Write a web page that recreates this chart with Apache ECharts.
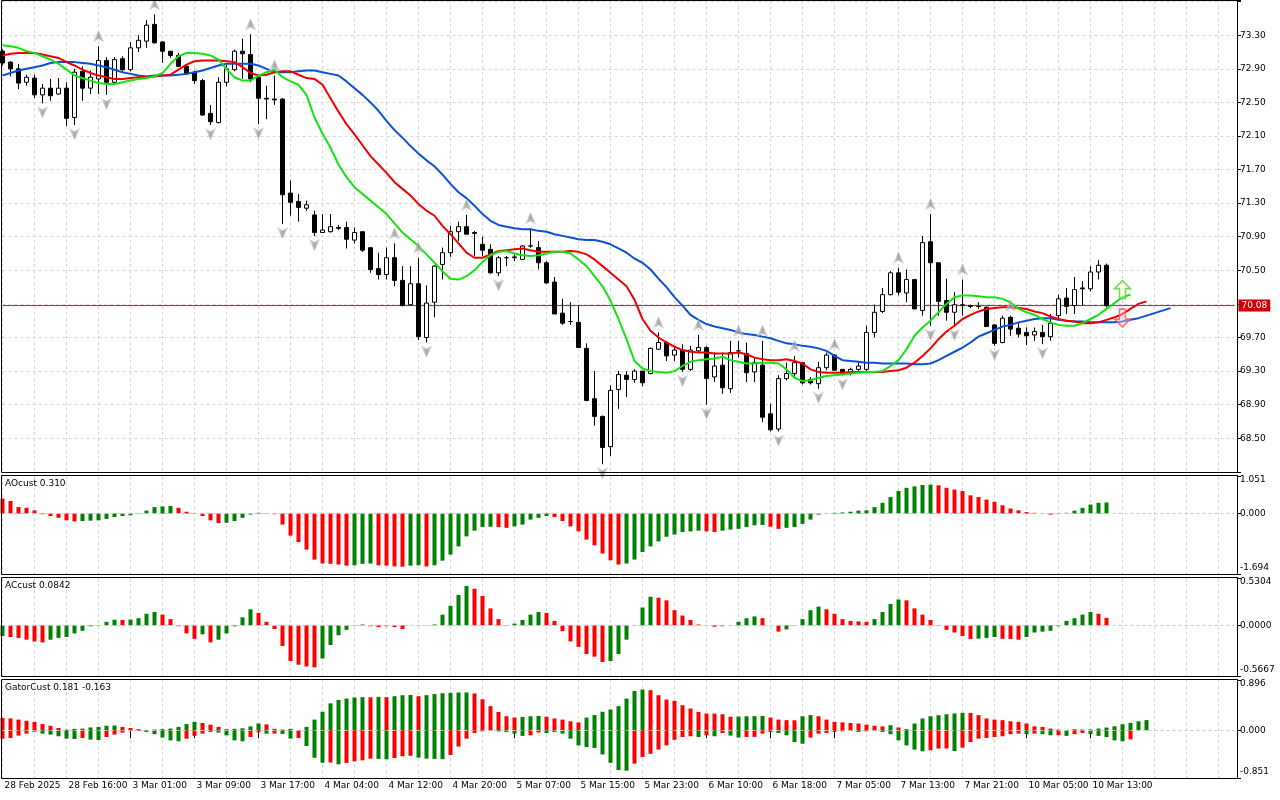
<!DOCTYPE html>
<html>
<head>
<meta charset="utf-8">
<title>Alligator / AO / AC / Gator</title>
<script src="https://cdn.jsdelivr.net/npm/echarts@6.0.0/dist/echarts.min.js"></script>
<style>
    html, body {margin: 0; padding: 0; background: #fff;}
    #main {width: 1280px; height: 800px;}
</style>
</head>
<body>
<div id="main"></div>
<script>
var FONT = 'DejaVu Sans';

// time labels, one every 8 bars
var timeLabels = ['28 Feb 2025', '28 Feb 16:00', '3 Mar 01:00', '3 Mar 09:00', '3 Mar 17:00', '4 Mar 04:00',
    '4 Mar 12:00', '4 Mar 20:00', '5 Mar 07:00', '5 Mar 15:00', '5 Mar 23:00', '6 Mar 10:00', '6 Mar 18:00',
    '7 Mar 05:00', '7 Mar 13:00', '7 Mar 21:00', '10 Mar 05:00', '10 Mar 13:00'];
var slotCount = 155;   // bar slots across the window (chart is shifted)

// candles: [open, close, low, high]
var ohlc = [
    [73.11,72.97,72.94,73.13],[72.98,72.90,72.81,72.99],[72.90,72.73,72.66,72.96],[72.74,72.80,72.70,72.83],
    [72.79,72.59,72.55,72.83],[72.59,72.67,72.49,72.72],[72.67,72.58,72.52,72.78],[72.60,72.67,72.59,72.79],
    [72.67,72.31,72.22,72.74],[72.32,72.86,72.23,72.90],[72.87,72.67,72.52,72.93],[72.67,72.80,72.60,72.88],
    [72.78,73.00,72.60,73.17],[73.00,72.74,72.59,73.04],[72.74,73.01,72.72,73.04],[73.02,72.89,72.87,73.05],
    [72.89,73.15,72.87,73.22],[73.15,73.24,73.10,73.30],[73.23,73.42,73.15,73.48],[73.43,73.21,73.20,73.55],
    [73.22,73.11,72.97,73.23],[73.11,73.06,73.03,73.11],[73.06,72.93,72.92,73.09],[72.93,72.84,72.83,72.95],
    [72.86,72.76,72.72,72.88],[72.76,72.35,72.34,72.78],[72.37,72.27,72.23,72.47],[72.26,72.74,72.25,72.80],
    [72.74,72.90,72.69,72.95],[72.89,73.11,72.87,73.13],[73.11,73.08,72.78,73.26],[73.07,72.78,72.74,73.31],
    [72.80,72.55,72.24,72.82],[72.55,72.54,72.30,72.70],[72.54,72.53,72.47,72.82],[72.54,71.40,71.05,72.55],
    [71.42,71.31,71.15,71.57],[71.32,71.25,71.08,71.41],[71.24,71.28,71.21,71.33],[71.16,70.95,70.91,71.21],
    [70.95,70.98,70.95,71.17],[70.96,71.02,70.95,71.17],[71.01,71.00,70.98,71.04],[71.01,70.87,70.76,71.08],
    [70.86,70.95,70.82,71.01],[70.96,70.74,70.72,70.96],[70.77,70.51,70.47,70.77],[70.52,70.45,70.39,70.71],
    [70.45,70.65,70.39,70.77],[70.65,70.38,70.31,70.82],[70.38,70.08,70.07,70.55],[70.09,70.34,70.08,70.55],
    [70.34,69.71,69.67,70.65],[69.70,70.11,69.64,70.32],[70.12,70.55,69.94,70.56],[70.57,70.71,70.39,70.77],
    [70.71,70.96,70.66,71.03],[70.96,71.02,70.85,71.08],[71.02,70.93,70.93,71.16],[70.95,70.94,70.67,70.97],
    [70.81,70.74,70.67,70.90],[70.75,70.47,70.46,70.81],[70.47,70.65,70.43,70.67],[70.65,70.65,70.55,70.67],
    [70.65,70.66,70.61,70.69],[70.63,70.79,70.63,70.80],[70.79,70.79,70.77,71.00],[70.77,70.59,70.51,70.85],
    [70.59,70.35,70.34,70.61],[70.36,69.98,69.98,70.42],[69.99,69.87,69.85,70.16],[69.89,69.89,69.85,70.12],
    [69.88,69.58,69.58,70.08],[69.57,68.95,68.94,69.63],[68.97,68.76,68.65,69.30],[68.76,68.39,68.19,68.77],
    [68.40,69.07,68.29,69.13],[69.08,69.26,68.85,69.30],[69.25,69.20,68.99,69.30],[69.20,69.30,69.16,69.32],
    [69.30,69.16,69.12,69.30],[69.27,69.57,69.26,69.58],[69.56,69.64,69.55,69.76],[69.64,69.48,69.42,69.66],
    [69.49,69.55,69.42,69.60],[69.55,69.32,69.29,69.62],[69.32,69.55,69.30,69.60],[69.54,69.58,69.52,69.73],
    [69.58,69.21,68.90,69.60],[69.23,69.36,69.17,69.52],[69.37,69.10,69.03,69.52],[69.09,69.52,69.04,69.66],
    [69.54,69.54,69.46,69.66],[69.51,69.28,69.17,69.64],[69.29,69.40,69.17,69.46],[69.37,68.75,68.69,69.66],
    [68.79,68.60,68.58,68.91],[68.61,69.21,68.58,69.25],[69.21,69.27,69.19,69.40],[69.27,69.40,69.21,69.48],
    [69.40,69.16,69.14,69.40],[69.20,69.16,69.14,69.23],[69.15,69.34,69.09,69.41],[69.34,69.49,69.31,69.52],
    [69.49,69.31,69.30,69.50],[69.32,69.27,69.25,69.32],[69.28,69.32,69.25,69.34],[69.32,69.36,69.29,69.40],
    [69.32,69.76,69.30,69.84],[69.76,70.00,69.70,70.09],[70.01,70.21,69.99,70.29],[70.21,70.47,70.20,70.49],
    [70.47,70.24,70.20,70.53],[70.23,70.39,70.12,70.51],[70.39,70.04,70.04,70.39],[70.02,70.83,69.96,70.91],
    [70.84,70.59,69.84,71.17],[70.59,70.13,69.96,70.59],[70.14,70.00,69.90,70.40],[70.00,70.09,69.84,70.24],
    [70.08,70.09,69.96,70.39],[70.08,70.07,70.05,70.09],[70.07,70.07,70.04,70.12],[70.06,69.83,69.83,70.07],
    [69.85,69.63,69.60,69.86],[69.64,69.93,69.63,69.96],[69.94,69.80,69.72,69.96],[69.81,69.74,69.70,69.88],
    [69.76,69.72,69.61,69.82],[69.73,69.77,69.66,69.82],[69.76,69.71,69.62,69.85],[69.71,69.87,69.66,69.98],
    [69.96,70.16,69.90,70.21],[70.17,70.07,69.98,70.29],[70.08,70.27,69.98,70.42],[70.29,70.28,70.08,70.37],
    [70.28,70.48,70.25,70.55],[70.48,70.56,70.39,70.62],[70.56,70.08,70.06,70.58]
];

// alligator lines as drawn (already shifted forward)
var jaw = [
    72.82,72.85,72.88,72.90,72.92,72.94,72.97,72.98,72.98,72.98,
    72.97,72.96,72.94,72.92,72.89,72.86,72.84,72.82,72.81,72.82,
    72.82,72.82,72.83,72.84,72.86,72.88,72.91,72.94,72.96,72.96,
    72.96,72.96,72.94,72.90,72.86,72.86,72.86,72.87,72.88,72.88,
    72.86,72.84,72.82,72.75,72.67,72.59,72.50,72.40,72.28,72.17,
    72.08,71.98,71.89,71.81,71.74,71.64,71.53,71.43,71.36,71.27,
    71.17,71.09,71.04,71.02,71.00,70.99,70.99,70.97,70.96,70.93,
    70.91,70.89,70.87,70.86,70.86,70.84,70.81,70.76,70.71,70.64,
    70.59,70.51,70.40,70.30,70.18,70.08,69.97,69.91,69.86,69.83,
    69.81,69.79,69.76,69.74,69.73,69.71,69.69,69.66,69.63,69.62,
    69.60,69.59,69.57,69.54,69.48,69.43,69.42,69.41,69.40,69.40,
    69.39,69.39,69.39,69.39,69.38,69.38,69.39,69.43,69.48,69.53,
    69.58,69.64,69.71,69.75,69.79,69.83,69.85,69.88,69.90,69.92,
    69.93,69.93,69.91,69.90,69.89,69.89,69.88,69.88,69.88,69.88,
    69.89,69.91,69.93,69.96,69.99,70.02,70.05
];
var teeth = [
    73.06,73.08,73.09,73.09,73.09,73.07,73.05,73.03,72.98,72.94,
    72.89,72.85,72.82,72.80,72.78,72.78,72.79,72.80,72.80,72.81,
    72.82,72.83,72.89,72.95,72.99,73.00,73.00,73.00,72.99,72.98,
    72.92,72.85,72.82,72.83,72.86,72.87,72.87,72.83,72.79,72.78,
    72.71,72.55,72.39,72.24,72.12,71.99,71.86,71.76,71.66,71.55,
    71.47,71.39,71.29,71.21,71.15,71.03,70.93,70.82,70.71,70.65,
    70.65,70.69,70.73,70.74,70.75,70.76,70.74,70.72,70.72,70.72,
    70.72,70.73,70.72,70.69,70.63,70.55,70.47,70.39,70.31,70.15,
    69.92,69.78,69.70,69.64,69.59,69.55,69.53,69.52,69.52,69.51,
    69.51,69.51,69.52,69.50,69.46,69.44,69.43,69.43,69.44,69.42,
    69.39,69.32,69.29,69.28,69.28,69.28,69.29,69.29,69.29,69.29,
    69.29,69.30,69.31,69.34,69.40,69.48,69.57,69.68,69.77,69.84,
    69.92,69.97,70.01,70.04,70.05,70.06,70.06,70.05,70.04,70.01,
    69.99,69.95,69.92,69.90,69.89,69.87,69.87,69.88,69.91,69.94,
    69.98,70.04,70.10,70.13
];
var lips = [
    73.18,73.17,73.15,73.11,73.09,73.05,73.01,72.96,72.89,72.82,
    72.79,72.76,72.73,72.72,72.72,72.74,72.76,72.78,72.79,72.81,
    72.85,72.96,73.05,73.09,73.09,73.08,73.06,73.01,72.90,72.80,
    72.76,72.76,72.82,72.86,72.89,72.80,72.75,72.71,72.59,72.32,
    72.13,71.96,71.76,71.61,71.49,71.41,71.33,71.25,71.17,71.06,
    70.95,70.87,70.79,70.69,70.59,70.49,70.40,70.39,70.43,70.50,
    70.60,70.68,70.72,70.73,70.70,70.68,70.67,70.68,70.70,70.72,
    70.72,70.70,70.63,70.55,70.43,70.31,70.14,69.92,69.68,69.42,
    69.33,69.30,69.29,69.28,69.30,69.36,69.41,69.43,69.44,69.45,
    69.47,69.43,69.41,69.39,69.39,69.40,69.40,69.39,69.32,69.22,
    69.18,69.19,69.22,69.24,69.25,69.26,69.27,69.28,69.29,69.29,
    69.30,69.36,69.43,69.56,69.72,69.82,69.90,70.00,70.10,70.18,
    70.20,70.20,70.19,70.18,70.18,70.16,70.12,70.04,70.00,69.97,
    69.92,69.88,69.85,69.84,69.84,69.87,69.92,69.97,70.04,70.11,
    70.18,70.21
];

// fractal bars
var upFractals = [12, 19, 31, 34, 49, 52, 58, 66, 82, 87, 92, 95, 99, 104, 112, 116, 120, 126];
var downFractals = [5, 9, 13, 26, 32, 35, 39, 53, 62, 75, 85, 88, 97, 102, 105, 116, 119, 124, 130];

// signal arrows and bid
var signalUp = [[140, 70.27]];
var signalDown = [[140, 69.93]];
var bidPrice = 70.08;

var aoValues = [
    0.42,0.35,0.18,0.16,0.09,-0.02,-0.07,-0.12,-0.19,-0.22,
    -0.21,-0.20,-0.19,-0.15,-0.10,-0.07,-0.05,-0.01,0.08,0.18,
    0.20,0.21,0.16,0.05,-0.01,-0.07,-0.19,-0.27,-0.26,-0.21,
    -0.12,-0.03,0.02,-0.01,-0.02,-0.31,-0.62,-0.80,-1.01,-1.29,
    -1.40,-1.41,-1.43,-1.46,-1.45,-1.41,-1.40,-1.45,-1.46,-1.48,
    -1.49,-1.46,-1.45,-1.48,-1.45,-1.32,-1.15,-0.92,-0.64,-0.48,
    -0.38,-0.37,-0.38,-0.40,-0.36,-0.31,-0.17,-0.12,-0.07,-0.10,
    -0.21,-0.36,-0.50,-0.73,-0.89,-1.12,-1.31,-1.43,-1.40,-1.29,
    -1.08,-0.92,-0.78,-0.65,-0.59,-0.52,-0.50,-0.48,-0.50,-0.52,
    -0.48,-0.45,-0.43,-0.38,-0.33,-0.32,-0.37,-0.43,-0.40,-0.38,
    -0.29,-0.17,-0.03,0.01,0.02,0.03,0.05,0.08,0.09,0.18,
    0.30,0.46,0.63,0.72,0.76,0.80,0.81,0.79,0.72,0.67,
    0.63,0.51,0.46,0.39,0.33,0.23,0.14,0.09,0.04,0.02,
    0.01,-0.03,-0.01,0.02,0.08,0.16,0.25,0.30,0.31
];
var acValues = [
    -0.12,-0.13,-0.14,-0.16,-0.18,-0.19,-0.16,-0.14,-0.13,-0.09,
    -0.06,-0.01,0.004,0.04,0.063,0.060,0.065,0.08,0.13,0.15,
    0.12,0.07,-0.01,-0.09,-0.15,-0.10,-0.19,-0.16,-0.09,-0.01,
    0.09,0.18,0.14,0.04,-0.04,-0.23,-0.40,-0.44,-0.46,-0.47,
    -0.37,-0.22,-0.11,-0.05,0.004,0.01,-0.01,-0.02,-0.01,-0.02,
    -0.04,0.00,0.004,-0.002,0.01,0.12,0.22,0.34,0.44,0.41,
    0.33,0.19,0.07,0.004,0.02,0.06,0.12,0.15,0.14,0.05,
    -0.065,-0.18,-0.24,-0.32,-0.35,-0.41,-0.40,-0.32,-0.16,0.004,
    0.20,0.32,0.31,0.28,0.17,0.11,0.06,0.01,-0.002,-0.015,
    -0.01,0.004,0.04,0.08,0.10,0.08,0.00,-0.07,-0.045,0.004,
    0.07,0.17,0.21,0.18,0.13,0.07,0.05,0.045,0.04,0.07,
    0.15,0.24,0.29,0.28,0.19,0.12,0.06,0.004,-0.05,-0.08,
    -0.12,-0.152,-0.148,-0.14,-0.13,-0.15,-0.152,-0.16,-0.13,-0.08,
    -0.07,-0.06,-0.01,0.05,0.08,0.12,0.15,0.13,0.0842
];
var gatorUp = [
    0.22,0.21,0.19,0.17,0.15,0.11,0.08,0.04,0.01,0.025,
    0.03,0.05,0.06,0.08,0.085,0.06,0.04,0.02,0.006,0.012,
    0.02,0.03,0.06,0.11,0.15,0.13,0.10,0.06,0.02,0.025,
    0.035,0.07,0.12,0.105,0.025,0.012,0.024,0.006,0.06,0.19,
    0.33,0.48,0.54,0.565,0.585,0.59,0.588,0.595,0.59,0.607,
    0.625,0.628,0.607,0.625,0.645,0.66,0.668,0.672,0.675,0.655,
    0.553,0.43,0.327,0.25,0.226,0.238,0.25,0.256,0.24,0.21,
    0.19,0.16,0.14,0.226,0.27,0.33,0.37,0.43,0.565,0.70,
    0.726,0.714,0.625,0.548,0.524,0.446,0.387,0.327,0.298,0.296,
    0.286,0.24,0.245,0.25,0.252,0.255,0.226,0.19,0.18,0.178,
    0.25,0.27,0.25,0.19,0.15,0.14,0.13,0.12,0.10,0.08,
    0.07,0.09,0.05,0.02,0.12,0.21,0.25,0.268,0.285,0.30,
    0.31,0.309,0.27,0.21,0.19,0.18,0.16,0.15,0.12,0.07,
    0.06,0.03,0.012,0.004,0.018,0.012,0.014,0.03,0.048,0.071,
    0.107,0.131,0.16,0.181
];
var gatorDown = [
    -0.15,-0.14,-0.095,-0.06,-0.025,-0.06,-0.077,-0.107,-0.149,-0.155,
    -0.137,-0.167,-0.173,-0.12,-0.077,-0.042,-0.015,-0.01,-0.03,-0.07,
    -0.13,-0.18,-0.196,-0.149,-0.10,-0.06,-0.03,-0.042,-0.09,-0.18,
    -0.196,-0.12,-0.036,-0.06,-0.059,-0.065,-0.149,-0.137,-0.28,-0.49,
    -0.58,-0.575,-0.607,-0.583,-0.554,-0.536,-0.506,-0.51,-0.518,-0.494,
    -0.464,-0.455,-0.488,-0.506,-0.51,-0.515,-0.44,-0.29,-0.15,-0.05,
    -0.02,-0.01,-0.02,-0.03,-0.06,-0.10,-0.09,-0.04,-0.05,-0.03,
    -0.06,-0.15,-0.27,-0.30,-0.315,-0.43,-0.58,-0.71,-0.72,-0.595,
    -0.476,-0.42,-0.345,-0.27,-0.17,-0.12,-0.107,-0.12,-0.09,-0.107,
    -0.05,-0.095,-0.13,-0.12,-0.118,-0.06,-0.03,-0.048,-0.09,-0.21,
    -0.24,-0.13,-0.06,-0.048,-0.03,-0.02,-0.012,-0.03,-0.02,-0.012,
    -0.03,-0.07,-0.18,-0.27,-0.345,-0.375,-0.357,-0.327,-0.325,-0.37,
    -0.31,-0.21,-0.15,-0.137,-0.12,-0.107,-0.07,-0.06,-0.07,-0.06,
    -0.07,-0.09,-0.088,-0.10,-0.07,-0.048,-0.07,-0.10,-0.12,-0.18,
    -0.196,-0.163
];

var GREEN = '#008000', RED = '#ff0000';
var GRID_LINE = {color: '#d6d6d6', type: [3, 3], width: 1};

// histogram colour: up vs previous bar
function histColor(vals, first, useAbs) {
    return function (p) {
        var i = p.dataIndex;
        if (i === 0) return first;
        var a = useAbs ? Math.abs(vals[i]) : vals[i];
        var b = useAbs ? Math.abs(vals[i - 1]) : vals[i - 1];
        return a > b ? GREEN : RED;
    };
}

var categories = [];
for (var k = 0; k < slotCount; k++) categories.push(String(k));

function isTimeTick(i) {
    return i % 8 === 0 && i / 8 < timeLabels.length;
}

function xAxisFor(idx, withLabels) {
    return {
        type: 'category', gridIndex: idx, data: categories, boundaryGap: false,
        axisLine: {show: false},
        axisTick: {show: withLabels, length: 8, interval: isTimeTick, lineStyle: {color: '#000'}},
        axisLabel: {
            show: withLabels, align: 'left', margin: 3, padding: [0, 0, 0, 2],
            fontSize: 9, fontFamily: FONT, color: '#000',
            interval: isTimeTick,
            formatter: function (v, i) { return timeLabels[i / 8] || ''; }
        },
        splitLine: {show: true, interval: function (i) { return i % 4 === 0; }, lineStyle: GRID_LINE}
    };
}

function subAxis(idx, lo, hi, digits) {
    var near = function (a, b) { return Math.abs(a - b) < 1e-9; };
    return {
        type: 'value', gridIndex: idx, position: 'right', offset: 2.5, min: lo, max: hi,
        splitLine: {show: false},
        axisLine: {show: true, lineStyle: {color: '#000'}},
        axisTick: {show: true, length: 4, customValues: [lo, 0, hi], lineStyle: {color: '#000'}},
        axisLabel: {
            customValues: [lo, 0, hi], margin: 3, color: '#000', fontSize: 9, fontFamily: FONT,
            formatter: function (v) {
                var s = v.toFixed(digits);
                if (near(v, hi)) return '{t|' + s + '}';
                if (near(v, lo)) return '{b|' + s + '}';
                return s;
            },
            rich: {
                t: {padding: [8, 0, 0, 0], fontSize: 9, fontFamily: FONT, color: '#000'},
                b: {padding: [0, 0, 12, 0], fontSize: 9, fontFamily: FONT, color: '#000'}
            }
        }
    };
}

function zeroLine() {
    return {silent: true, symbol: ['none', 'none'], label: {show: false},
        lineStyle: {color: '#c8c8c8', type: [3, 3], width: 1}, data: [{yAxis: 0}]};
}

var fractalFill = {
    type: 'linear', x: 0, y: 0, x2: 1, y2: 0,
    colorStops: [{offset: 0, color: '#e4e4e4'}, {offset: 0.5, color: '#939393'}, {offset: 1, color: '#c6c6c6'}]
};

var myChart = echarts.init(document.getElementById('main'), null, {renderer: 'canvas'});

var option = {
    animation: false,
    backgroundColor: '#fff',
    textStyle: {fontFamily: FONT},
    title: [
        {text: 'AOcust ' + aoValues[aoValues.length - 1].toFixed(3), left: 5, top: 479, padding: 0,
            textStyle: {fontSize: 9, fontWeight: 'normal', fontFamily: FONT, color: '#000'}},
        {text: 'ACcust ' + acValues[acValues.length - 1].toFixed(4), left: 5, top: 581, padding: 0,
            textStyle: {fontSize: 9, fontWeight: 'normal', fontFamily: FONT, color: '#000'}},
        {text: 'GatorCust ' + gatorUp[gatorUp.length - 1].toFixed(3) + ' ' + gatorDown[gatorDown.length - 1].toFixed(3),
            left: 5, top: 683, padding: 0,
            textStyle: {fontSize: 9, fontWeight: 'normal', fontFamily: FONT, color: '#000'}}
    ],
    grid: [
        // small negative top puts the bid level on a pixel centre
        {left: 2.5, width: 1232, top: -0.21, height: 472},
        {left: 2.5, width: 1232, top: 476, height: 98},
        {left: 2.5, width: 1232, top: 578, height: 98},
        {left: 2.5, width: 1232, top: 680, height: 98}
    ],
    xAxis: [xAxisFor(0, false), xAxisFor(1, false), xAxisFor(2, false), xAxisFor(3, true)],
    yAxis: [
        {
            type: 'value', gridIndex: 0, position: 'right', offset: 2.5,
            min: 68.10, max: 73.72, interval: 0.4,
            splitLine: {show: true, lineStyle: GRID_LINE},
            axisLine: {show: true, lineStyle: {color: '#000'}},
            axisTick: {show: true, length: 4, lineStyle: {color: '#000'}},
            axisLabel: {
                margin: 3, color: '#000', fontSize: 9, fontFamily: FONT,
                formatter: function (v) {
                    if (v < 68.4 || v > 73.5 || Math.abs(v - bidPrice) < 0.15) return '';
                    return v.toFixed(2);
                }
            }
        },
        subAxis(1, -1.694, 1.051, 3),
        subAxis(2, -0.5667, 0.5304, 4),
        subAxis(3, -0.851, 0.896, 3)
    ],
    graphic: [
        {type: 'rect', silent: true, z: 100, shape: {x: 1.5, y: 0.5, width: 1236, height: 472},
            style: {fill: 'none', stroke: '#000', lineWidth: 1}},
        {type: 'rect', silent: true, z: 100, shape: {x: 1.5, y: 475.5, width: 1236, height: 99},
            style: {fill: 'none', stroke: '#000', lineWidth: 1}},
        {type: 'rect', silent: true, z: 100, shape: {x: 1.5, y: 577.5, width: 1236, height: 99},
            style: {fill: 'none', stroke: '#000', lineWidth: 1}},
        {type: 'rect', silent: true, z: 100, shape: {x: 1.5, y: 679.5, width: 1236, height: 99},
            style: {fill: 'none', stroke: '#000', lineWidth: 1}}
    ],
    series: [
        {
            // bid line across the window, price box at its right end
            name: 'Bid', type: 'line', xAxisIndex: 0, yAxisIndex: 0, z: 2, silent: true,
            data: categories.map(function () { return bidPrice; }),
            symbol: 'none', itemStyle: {color: '#ff0000'},
            lineStyle: {color: '#ff0000', width: 1, type: 'solid'},
            endLabel: {show: true, distance: 4, formatter: bidPrice.toFixed(2),
                color: '#fff', backgroundColor: '#cc0000', padding: [2, 3, 1, 3],
                fontSize: 9, fontFamily: FONT}
        },
        {
            name: 'price', type: 'candlestick', xAxisIndex: 0, yAxisIndex: 0,
            data: ohlc, barWidth: 4, clip: false, z: 2,
            itemStyle: {color: '#fff', color0: '#000', borderColor: '#000', borderColor0: '#000', borderWidth: 1}
        },
        {name: 'Jaw', type: 'line', xAxisIndex: 0, yAxisIndex: 0, data: jaw, symbol: 'none', z: 3,
            itemStyle: {color: '#0b50d6'}, lineStyle: {color: '#0b50d6', width: 2}},
        {name: 'Teeth', type: 'line', xAxisIndex: 0, yAxisIndex: 0, data: teeth, symbol: 'none', z: 3,
            itemStyle: {color: '#f20000'}, lineStyle: {color: '#f20000', width: 2}},
        {name: 'Lips', type: 'line', xAxisIndex: 0, yAxisIndex: 0, data: lips, symbol: 'none', z: 3,
            itemStyle: {color: '#12e412'}, lineStyle: {color: '#12e412', width: 2}},
        {
            name: 'Fractal up', type: 'scatter', xAxisIndex: 0, yAxisIndex: 0, z: 4,
            data: upFractals.map(function (i) { return [i, ohlc[i][3]]; }),
            symbol: 'path://M6,0 L12,13 L6,9.5 L0,13 Z', symbolSize: [10, 11], symbolOffset: [0, -10],
            itemStyle: {color: fractalFill, borderColor: '#c4c4c4', borderWidth: 0.6}
        },
        {
            name: 'Fractal down', type: 'scatter', xAxisIndex: 0, yAxisIndex: 0, z: 4,
            data: downFractals.map(function (i) { return [i, ohlc[i][2]]; }),
            symbol: 'path://M0,0 L6,3.5 L12,0 L6,13 Z', symbolSize: [10, 11], symbolOffset: [0, 9],
            itemStyle: {color: fractalFill, borderColor: '#c4c4c4', borderWidth: 0.6}
        },
        {
            name: 'Signal up', type: 'scatter', xAxisIndex: 0, yAxisIndex: 0, z: 5, data: signalUp,
            symbol: 'path://M8,0 L16,8 L11,8 L11,18 L5,18 L5,8 L0,8 Z', symbolSize: [16, 18],
            itemStyle: {color: 'rgba(255,255,190,0.5)', borderColor: '#4fcf3a', borderWidth: 1.5}
        },
        {
            name: 'Signal down', type: 'scatter', xAxisIndex: 0, yAxisIndex: 0, z: 5, data: signalDown,
            symbol: 'path://M5,0 L11,0 L11,10 L16,10 L8,18 L0,10 L5,10 Z', symbolSize: [16, 18],
            itemStyle: {color: 'rgba(255,205,215,0.5)', borderColor: '#ff4b5c', borderWidth: 1.5}
        },
        {
            name: 'AO', type: 'bar', xAxisIndex: 1, yAxisIndex: 1, data: aoValues, barWidth: 4, clip: false,
            itemStyle: {color: histColor(aoValues, RED, false)}, markLine: zeroLine()
        },
        {
            name: 'AC', type: 'bar', xAxisIndex: 2, yAxisIndex: 2, data: acValues, barWidth: 4, clip: false,
            itemStyle: {color: histColor(acValues, GREEN, false)}, markLine: zeroLine()
        },
        {
            name: 'Gator up', type: 'bar', stack: 'gator', xAxisIndex: 3, yAxisIndex: 3, data: gatorUp,
            barWidth: 4, clip: false, itemStyle: {color: histColor(gatorUp, RED, true)}, markLine: zeroLine()
        },
        {
            name: 'Gator down', type: 'bar', stack: 'gator', xAxisIndex: 3, yAxisIndex: 3, data: gatorDown,
            barWidth: 4, clip: false, itemStyle: {color: histColor(gatorDown, RED, true)}
        }
    ]
};
myChart.setOption(option);
</script>
</body>
</html>
